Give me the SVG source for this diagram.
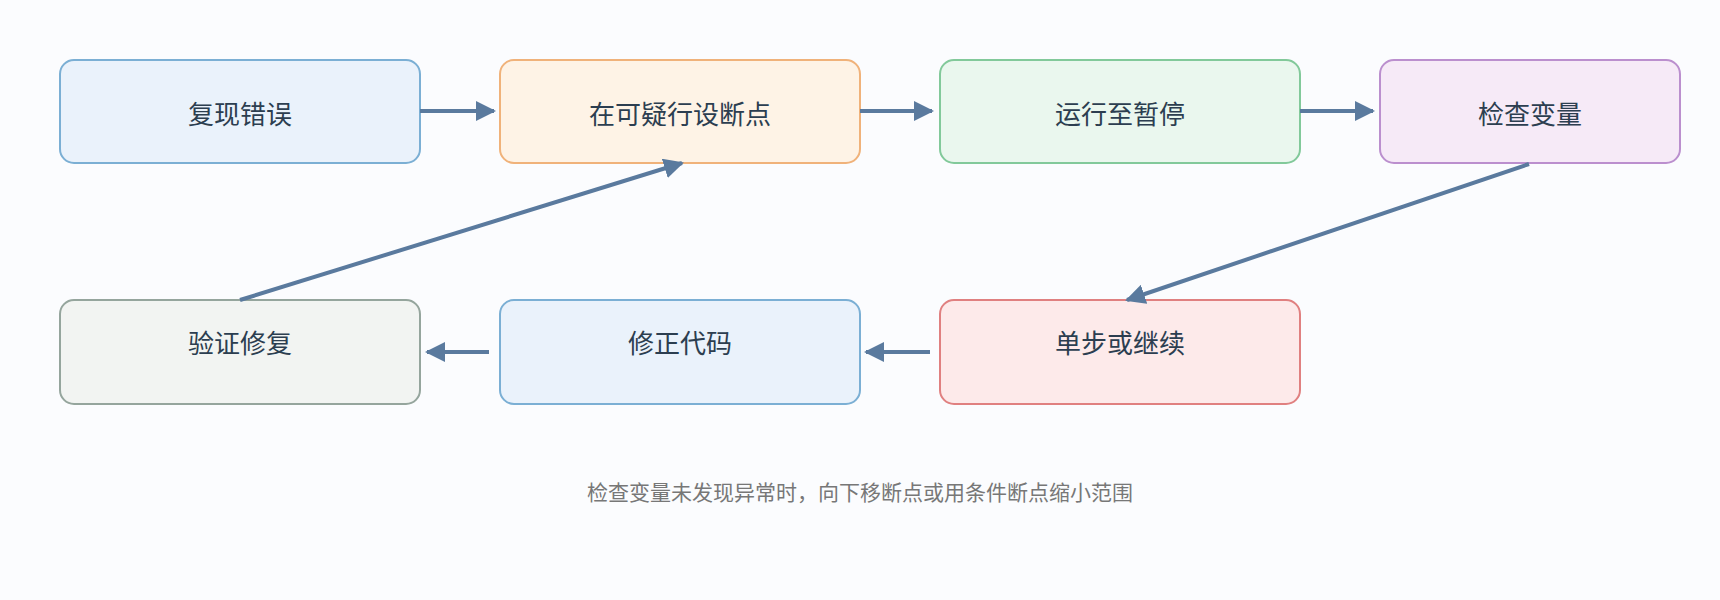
<svg xmlns="http://www.w3.org/2000/svg" width="1720" height="600" viewBox="0 0 1720 600">
<defs>
<marker id="ah" viewBox="0 0 10 10" refX="9" refY="5" markerWidth="5" markerHeight="5" orient="auto" markerUnits="strokeWidth"><path d="M0,0 L10,5 L0,10 z" fill="#5a7a9e"/></marker>
<style>
.n rect{stroke-width:2}
.n text{font-family:"Noto Sans CJK SC","Noto Sans",sans-serif;font-size:26px;fill:#2c3e50;text-anchor:middle;dominant-baseline:central}
.c line{stroke:#5a7a9e;stroke-width:4;marker-end:url(#ah)}
</style>
</defs>
<rect width="1720" height="600" fill="#fbfcfe"/>
<g id="n1" class="n"><rect x="60" y="60" width="360" height="103" rx="14" fill="#eaf2fb" stroke="#7bafd4"/><text x="240" y="112">复现错误</text></g>
<g id="n2" class="n"><rect x="500" y="60" width="360" height="103" rx="14" fill="#fef3e6" stroke="#f0b27a"/><text x="680" y="112">在可疑行设断点</text></g>
<g id="n3" class="n"><rect x="940" y="60" width="360" height="103" rx="14" fill="#eaf7ee" stroke="#82c99a"/><text x="1120" y="112">运行至暂停</text></g>
<g id="n4" class="n"><rect x="1380" y="60" width="300" height="103" rx="14" fill="#f6eaf7" stroke="#bb8fce"/><text x="1530" y="112">检查变量</text></g>
<g id="n5" class="n"><rect x="940" y="300" width="360" height="104" rx="14" fill="#fdeaea" stroke="#e08080"/><text x="1120" y="341">单步或继续</text></g>
<g id="n6" class="n"><rect x="500" y="300" width="360" height="104" rx="14" fill="#eaf2fb" stroke="#7bafd4"/><text x="680" y="341">修正代码</text></g>
<g id="n7" class="n"><rect x="60" y="300" width="360" height="104" rx="14" fill="#f2f4f2" stroke="#95a59d"/><text x="240" y="341">验证修复</text></g>
<g id="connectors" class="c">
<line x1="420" y1="111" x2="494" y2="111"/>
<line x1="860" y1="111" x2="932" y2="111"/>
<line x1="1300" y1="111" x2="1373" y2="111"/>
<line x1="1529" y1="164" x2="1127" y2="300"/>
<line x1="930" y1="352" x2="866" y2="352"/>
<line x1="489" y1="352" x2="427" y2="352"/>
<line x1="240" y1="300" x2="682" y2="163"/>
</g>
<text x="860" y="491" font-family="'Noto Sans CJK SC','Noto Sans',sans-serif" font-size="21" fill="#777" text-anchor="middle" dominant-baseline="central">检查变量未发现异常时，向下移断点或用条件断点缩小范围</text>
</svg>
